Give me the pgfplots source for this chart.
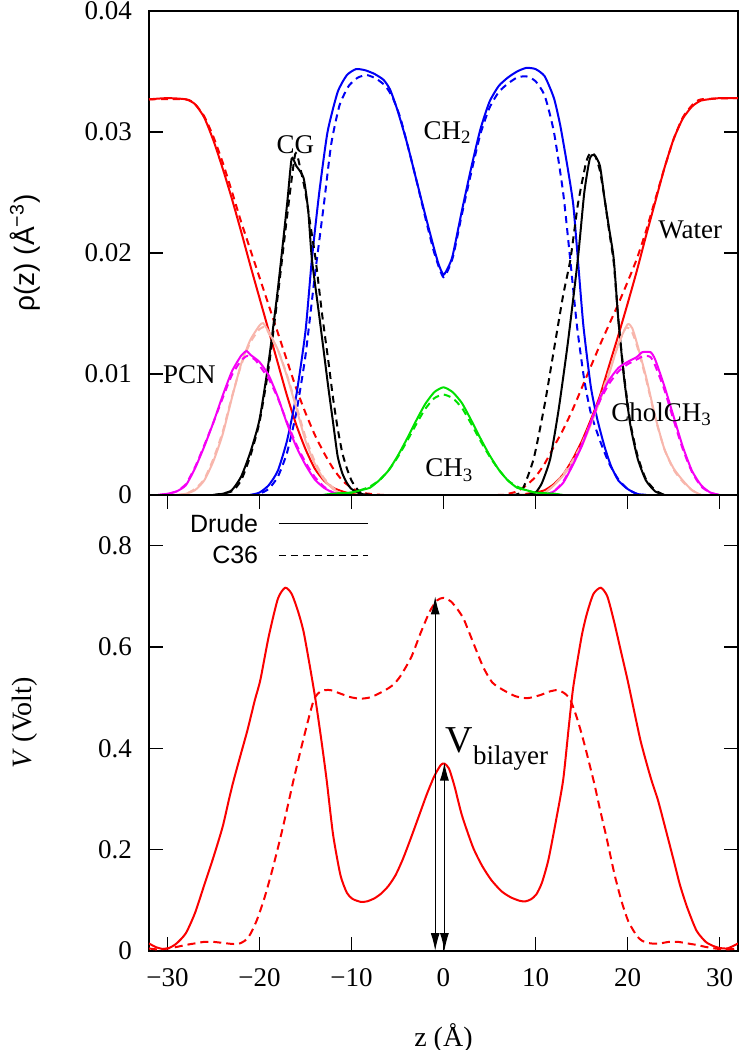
\documentclass[border=0pt]{standalone}
\usepackage{fontspec}
\setmainfont{Liberation Serif}
\setsansfont{Liberation Sans}
\usepackage{pgfplots}
\pgfplotsset{compat=1.18}
\usetikzlibrary{arrows.meta}
\definecolor{cpink}{RGB}{248,182,172}
\definecolor{cgreen}{RGB}{0,225,0}
\definecolor{cblue}{RGB}{0,0,245}
\definecolor{cmag}{RGB}{245,0,245}
\definecolor{cred}{RGB}{250,0,0}
\pgfplotsset{
  myax/.style={scale only axis, width=294.5pt, xmin=-32, xmax=32,
    axis line style={line width=0.8pt},
    tick align=inside, major tick length=7pt,
    every tick/.style={black, line width=0.8pt},
    every tick label/.append style={font=\fontsize{13.5}{16}\selectfont},
    yticklabel style={xshift=-5pt},
    xticklabel style={yshift=-5pt},
    label style={font=\fontsize{14}{17}\selectfont},
    ylabel style={at={(axis description cs:-0.211,0.5)}, anchor=center},
  },
  sol/.style={line width=1pt, smooth, tension=0.35},
  das/.style={line width=1pt, smooth, tension=0.35, dash pattern=on 3.5pt off 2.5pt},
}
\newcommand{\lab}{\fontsize{13.5}{16}\selectfont}
\begin{document}
\begin{tikzpicture}
% ---------------- top panel ----------------
\begin{axis}[myax, at={(0,228pt)}, anchor=south west, height=242pt,
  ymin=0, ymax=0.04, ytick={0,0.01,0.02,0.03,0.04}, yticklabels={0,0.01,0.02,0.03,0.04},
  xtick=\empty, ytick pos=both, yticklabel pos=left,
  ylabel={\sffamily ρ(z) (Å\textsuperscript{−3})}]
% Water
\addplot[sol, cred] coordinates {(-32,0.0327)(-30,0.0328)(-28,0.0327)(-27,0.0323)(-26,0.0312)(-25,0.0293)(-24,0.0270)(-23,0.0245)(-22,0.0218)(-21,0.0190)(-20,0.0163)(-19,0.0136)(-18,0.0109)(-17,0.0082)(-16,0.0058)(-15,0.0038)(-14,0.0022)(-13,0.0012)(-12,0.0006)(-11,0.0003)(-10,0.0001)(-8,0)(8,0)(9,0.0001)(10,0.0002)(11,0.0004)(12,0.0009)(13,0.0017)(14,0.0029)(15,0.0044)(16,0.0062)(17,0.0082)(18,0.0107)(19,0.0132)(20,0.0158)(21,0.0185)(22,0.0214)(23,0.0242)(24,0.0270)(25,0.0294)(26,0.0311)(27,0.0321)(28,0.0326)(30,0.0328)(32,0.0328)};
\addplot[das, cred] coordinates {(-32,0.0327)(-28,0.0327)(-27,0.0323)(-26,0.0313)(-25,0.0296)(-24,0.0275)(-23,0.0251)(-22,0.0226)(-21,0.0203)(-20,0.0180)(-19,0.0157)(-18,0.0134)(-17,0.0111)(-16,0.0088)(-15,0.0068)(-14,0.0050)(-13,0.0035)(-12,0.0022)(-11,0.0012)(-10,0.0006)(-9,0.0002)(-8,0.0001)(-6,0)(6,0)(7,0.0001)(8,0.0003)(9,0.0008)(10,0.0015)(11,0.0026)(12,0.0040)(13,0.0054)(14,0.0070)(15,0.0088)(16,0.0106)(17,0.0124)(18,0.0141)(19,0.0158)(20,0.0176)(21,0.0195)(22,0.0218)(23,0.0244)(24,0.0270)(25,0.0294)(26,0.0312)(27,0.0322)(28,0.0327)(32,0.0328)};
% CH2
\addplot[sol, cblue] coordinates {(-21,0)(-20,0.0002)(-19,0.0008)(-18,0.0020)(-17,0.0045)(-16,0.0082)(-15,0.0135)(-14.3,0.0195)(-13.5,0.0250)(-12.6,0.0300)(-11.5,0.0333)(-10.5,0.0347)(-9.5,0.0352)(-8.5,0.0351)(-7.5,0.0348)(-6.5,0.0343)(-5.8,0.0335)(-5,0.0318)(-4,0.0292)(-3,0.0262)(-2,0.0232)(-1,0.0203)(-0.5,0.0190)(0,0.0182)(0.5,0.0188)(1,0.0198)(2,0.0235)(3,0.0270)(4,0.0302)(5,0.0325)(6,0.0338)(7,0.0345)(8,0.0350)(9,0.0353)(10,0.0352)(11,0.0346)(12,0.0328)(12.7,0.0305)(13.5,0.0270)(14.1,0.0240)(14.6,0.0195)(15.2,0.0140)(16,0.0090)(16.7,0.0063)(17.5,0.0040)(18.2,0.0024)(19,0.0012)(20,0.0005)(21,0.0001)(22,0)};
\addplot[das, cblue] coordinates {(-21,0)(-20,0.0001)(-19,0.0005)(-18,0.0015)(-17,0.0035)(-16,0.0068)(-15,0.0115)(-14,0.0180)(-13,0.0240)(-12.2,0.0290)(-11.3,0.0322)(-10.3,0.0338)(-9.3,0.0345)(-8.3,0.0347)(-7.3,0.0344)(-6.3,0.0338)(-5.5,0.0328)(-4.7,0.0312)(-4,0.0292)(-3,0.0262)(-2,0.0230)(-1,0.0200)(0,0.0180)(1,0.0196)(2,0.0232)(3,0.0266)(4,0.0298)(5,0.0320)(6,0.0333)(7,0.0340)(8,0.0345)(9,0.0346)(10,0.0342)(11,0.0330)(12,0.0300)(13,0.0250)(13.7,0.0200)(14.5,0.0140)(15.3,0.0095)(16,0.0068)(17,0.0045)(18,0.0026)(19,0.0013)(20,0.0005)(21,0.0001)(22,0)};
% CG
\addplot[sol, black] coordinates {(-25,0)(-24,0.0001)(-23,0.0004)(-22,0.0015)(-21,0.0035)(-20,0.0062)(-19,0.0110)(-18,0.0170)(-17,0.0240)(-16.5,0.0278)(-16,0.0272)(-15.2,0.0262)(-14.7,0.0235)(-14.3,0.0195)(-13.5,0.0148)(-13,0.0118)(-12.5,0.0088)(-12,0.0060)(-11.5,0.0032)(-11,0.0018)(-10.5,0.0010)(-10,0.0005)(-9,0.0001)(-8,0)};
\addplot[das, black] coordinates {(-25,0)(-23,0.0003)(-22,0.0012)(-21,0.0032)(-20,0.0060)(-19,0.0105)(-18,0.0165)(-17,0.0230)(-16.1,0.0282)(-15.5,0.0268)(-15,0.0250)(-14.5,0.0225)(-13.9,0.0195)(-13.2,0.0150)(-12.5,0.0110)(-12,0.0080)(-11.5,0.0055)(-11,0.0035)(-10.5,0.0022)(-10,0.0012)(-9.5,0.0006)(-9,0.0002)(-8,0)};
\addplot[sol, black] coordinates {(9,0)(10,0.0002)(10.7,0.0010)(11.6,0.0030)(12.5,0.0070)(13.5,0.0125)(14.6,0.0195)(15.3,0.0250)(15.9,0.0278)(16.4,0.0281)(17,0.0272)(17.5,0.0245)(18,0.0220)(18.5,0.0195)(19,0.0145)(19.6,0.0098)(20.3,0.0058)(21.1,0.0030)(22,0.0012)(23,0.0003)(24,0)};
\addplot[das, black] coordinates {(7.5,0)(8.5,0.0003)(9.8,0.0030)(11,0.0075)(12,0.0120)(13,0.0165)(13.8,0.0195)(14.6,0.0240)(15.5,0.0275)(16,0.0283)(16.5,0.0280)(17,0.0268)(17.5,0.0245)(18,0.0218)(18.5,0.0192)(19,0.0145)(19.6,0.0100)(20.3,0.0060)(21.1,0.0032)(22,0.0013)(23,0.0004)(24,0)};
% CholCH3 (pink)
\addplot[sol, cpink] coordinates {(-29,0)(-28,0.0001)(-27,0.0004)(-26,0.0012)(-25,0.0028)(-24,0.0050)(-23,0.0080)(-22,0.0108)(-21,0.0128)(-20,0.0140)(-19.6,0.0142)(-19,0.0135)(-18,0.0120)(-17,0.0098)(-16,0.0072)(-15,0.0045)(-14,0.0026)(-13,0.0013)(-12,0.0005)(-11,0.0001)(-10,0)};
\addplot[das, cpink] coordinates {(-29,0)(-28,0.0001)(-27,0.0005)(-26,0.0013)(-25,0.0030)(-24,0.0052)(-23,0.0081)(-22,0.0107)(-21,0.0126)(-20,0.0137)(-19.4,0.0139)(-19,0.0134)(-18,0.0120)(-17,0.0099)(-16,0.0074)(-15,0.0048)(-14,0.0028)(-13,0.0014)(-12,0.0006)(-11,0.0001)(-10,0)};
\addplot[sol, cpink] coordinates {(10,0)(11,0.0002)(12,0.0008)(13,0.0016)(14,0.0026)(15,0.0040)(16,0.0058)(17,0.0078)(18,0.0100)(19,0.0125)(20,0.0141)(20.5,0.0138)(21,0.0126)(22,0.0098)(23,0.0065)(24,0.0038)(25,0.0022)(26,0.0012)(27,0.0004)(28,0)};
\addplot[das, cpink] coordinates {(10,0)(11,0.0002)(12,0.0008)(13,0.0017)(14,0.0028)(15,0.0042)(16,0.0060)(17,0.0080)(18,0.0102)(19,0.0124)(19.8,0.0138)(20.4,0.0136)(21,0.0124)(22,0.0096)(23,0.0064)(24,0.0038)(25,0.0021)(26,0.0011)(27,0.0004)(28,0)};
% PCN (magenta)
\addplot[sol, cmag] coordinates {(-31,0)(-30,0.0001)(-29,0.0003)(-28,0.0008)(-27,0.0022)(-26,0.0040)(-25,0.0060)(-24,0.0082)(-23,0.0102)(-22,0.0115)(-21.4,0.0119)(-21,0.0116)(-20,0.0110)(-19,0.0099)(-18,0.0081)(-17,0.0059)(-16,0.0040)(-15,0.0025)(-14,0.0013)(-13,0.0006)(-12,0.0002)(-11,0)};
\addplot[das, cmag] coordinates {(-31,0)(-30,0.0001)(-29,0.0003)(-28,0.0009)(-27,0.0023)(-26,0.0041)(-25,0.0060)(-24,0.0080)(-23,0.0099)(-22,0.0111)(-21.3,0.0115)(-20.5,0.0112)(-20,0.0107)(-19,0.0096)(-18,0.0080)(-17,0.0060)(-16,0.0042)(-15,0.0027)(-14,0.0015)(-13,0.0007)(-12,0.0002)(-11,0)};
\addplot[sol, cmag] coordinates {(11,0)(12,0.0003)(13,0.0010)(14,0.0024)(15,0.0040)(16,0.0060)(17,0.0080)(18,0.0095)(19,0.0105)(20,0.0110)(21,0.0114)(21.6,0.0118)(22.5,0.0118)(23,0.0112)(24,0.0090)(25,0.0065)(26,0.0040)(27,0.0020)(28,0.0008)(29,0.0002)(30,0)};
\addplot[das, cmag] coordinates {(11,0)(12,0.0003)(13,0.0011)(14,0.0025)(15,0.0041)(16,0.0060)(17,0.0078)(18,0.0092)(19,0.0102)(20,0.0108)(21,0.0112)(21.8,0.0115)(22.5,0.0114)(23,0.0107)(24,0.0087)(25,0.0062)(26,0.0038)(27,0.0019)(28,0.0007)(29,0.0002)(30,0)};
% CH3 (green)
\addplot[sol, cgreen] coordinates {(-13,0)(-12,0.0001)(-10,0.0002)(-9,0.0004)(-8,0.0006)(-7,0.0012)(-6,0.0020)(-5,0.0032)(-4,0.0046)(-3,0.0061)(-2,0.0075)(-1,0.0085)(0,0.0089)(1,0.0085)(2,0.0076)(3,0.0062)(4,0.0047)(5,0.0033)(6,0.0021)(7,0.0012)(8,0.0006)(9,0.0004)(10,0.0002)(12,0.0001)(13,0)};
\addplot[das, cgreen] coordinates {(-13,0)(-12,0.0001)(-10,0.0002)(-9,0.0004)(-8,0.0007)(-7,0.0012)(-6,0.0020)(-5,0.0031)(-4,0.0044)(-3,0.0058)(-2,0.0071)(-1,0.0080)(0,0.0083)(1,0.0080)(2,0.0072)(3,0.0059)(4,0.0045)(5,0.0032)(6,0.0021)(7,0.0012)(8,0.0007)(9,0.0004)(10,0.0002)(12,0.0001)(13,0)};
% labels
\node[anchor=base, inner sep=0, font=\lab] at (axis cs:-16.1,0.0282) {CG};
\node[anchor=base west, inner sep=0, font=\lab] at (axis cs:-2.2,0.0294) {CH\textsubscript{2}};
\node[anchor=base west, inner sep=0, font=\lab] at (axis cs:23.3,0.0212) {Water};
\node[anchor=base west, inner sep=0, font=\lab] at (axis cs:-30.5,0.0092) {PCN};
\node[anchor=base west, inner sep=0, font=\lab] at (axis cs:18.2,0.0061) {CholCH\textsubscript{3}};
\node[anchor=base west, inner sep=0, font=\lab] at (axis cs:-2.0,0.0015) {CH\textsubscript{3}};
\end{axis}
% ---------------- bottom panel ----------------
\begin{axis}[myax, at={(0,0)}, anchor=south west, height=228pt,
  ymin=0, ymax=0.9, ytick={0,0.2,0.4,0.6,0.8}, yticklabels={0,0.2,0.4,0.6,0.8},
  xtick={-30,-20,-10,0,10,20,30}, xticklabels={−30,−20,−10,0,10,20,30},
  xtick pos=both, xticklabel pos=bottom, ytick pos=both, yticklabel pos=left,
  xlabel={z (Å)}, ylabel={\textit{V} (Volt)},
  xlabel style={at={(axis description cs:0.5,-0.19)}, anchor=center}]
\addplot[line width=1pt, cred, smooth, tension=0.4] coordinates {(-32,0.015)(-31.3,0.008)(-30.5,0.004)(-29.8,0.006)(-29,0.015)(-28,0.035)(-27,0.075)(-26,0.130)(-25,0.185)(-24,0.245)(-23.3,0.300)(-22.8,0.337)(-22,0.390)(-21.3,0.436)(-20.5,0.495)(-19.9,0.535)(-19,0.620)(-18,0.695)(-17.2,0.717)(-16.5,0.705)(-15.8,0.670)(-15.2,0.630)(-14.5,0.560)(-13.9,0.495)(-13.3,0.420)(-12.7,0.338)(-12,0.230)(-11.2,0.150)(-10.5,0.115)(-9.9,0.103)(-9,0.097)(-8.3,0.098)(-7.5,0.104)(-6.8,0.113)(-6,0.128)(-5.2,0.150)(-4.4,0.182)(-3.5,0.225)(-2.5,0.275)(-1.8,0.310)(-1,0.345)(-0.3,0.367)(0.1,0.370)(0.6,0.360)(1.2,0.325)(2,0.268)(3.2,0.205)(4.2,0.168)(5.2,0.140)(6.3,0.118)(7.3,0.106)(8.3,0.099)(8.9,0.098)(9.5,0.102)(10.1,0.112)(10.7,0.135)(11.4,0.180)(12.2,0.255)(13,0.337)(13.6,0.440)(14.1,0.521)(15,0.620)(15.6,0.667)(16.3,0.705)(17.1,0.717)(17.8,0.700)(18.5,0.653)(19.3,0.590)(20,0.535)(20.7,0.475)(21.4,0.416)(22,0.375)(22.6,0.337)(23.3,0.298)(24,0.250)(25,0.180)(25.7,0.130)(26.5,0.085)(27.5,0.040)(28.5,0.018)(29.3,0.010)(30,0.006)(30.8,0.005)(31.5,0.010)(32,0.015)};
\addplot[line width=1pt, cred, smooth, tension=0.4, dash pattern=on 4pt off 2.5pt] coordinates {(-32,0.005)(-31,0.003)(-30,0.005)(-29,0.008)(-28,0.012)(-27,0.015)(-26,0.018)(-25,0.018)(-24,0.016)(-23,0.014)(-22.3,0.014)(-21.6,0.020)(-21,0.033)(-20.3,0.060)(-19.5,0.102)(-18.6,0.160)(-17.7,0.225)(-17,0.280)(-16.3,0.337)(-15.2,0.420)(-14.1,0.495)(-13.3,0.513)(-12.3,0.515)(-11.2,0.508)(-10.1,0.501)(-9,0.498)(-7.9,0.501)(-6.5,0.513)(-5.5,0.525)(-4.7,0.542)(-3.5,0.580)(-2.5,0.627)(-1.5,0.670)(-0.7,0.692)(0,0.697)(0.8,0.690)(1.5,0.675)(2.2,0.655)(3.2,0.610)(4.3,0.561)(5.3,0.530)(6.5,0.515)(7.8,0.503)(9.1,0.499)(10.5,0.505)(11.5,0.512)(12.4,0.515)(13.2,0.508)(13.8,0.495)(14.5,0.460)(15.2,0.416)(16.3,0.337)(17,0.280)(17.7,0.225)(18.6,0.150)(19.4,0.095)(20.1,0.058)(21,0.030)(21.6,0.020)(22.5,0.015)(23.5,0.015)(24.5,0.018)(25.5,0.018)(26.5,0.015)(27.5,0.012)(28.5,0.008)(29.5,0.005)(30.5,0.003)(31.5,0.004)(32,0.005)};
% arrows and annotation
\draw[line width=0.6pt, {Latex[length=9pt,width=4.5pt]}-{Latex[length=9pt,width=4.5pt]}] (axis cs:-0.9,0) -- (axis cs:-0.9,0.700);
\draw[line width=0.6pt, {Latex[length=9pt,width=4.5pt]}-{Latex[length=9pt,width=4.5pt]}] (axis cs:0.1,0) -- (axis cs:0.1,0.372);
\node[anchor=base west, inner sep=0] at (axis cs:0.2,0.392) {\fontsize{19}{20}\selectfont V\raisebox{-6pt}{\fontsize{13.5}{15}\selectfont bilayer}};
% legend
\node[anchor=east, inner sep=0, font=\sffamily\fontsize{12.5}{14}\selectfont] at (axis cs:-20.1,0.844) {Drude};
\node[anchor=east, inner sep=0, font=\sffamily\fontsize{12.5}{14}\selectfont] at (axis cs:-20.1,0.781) {C36};
\draw[black, line width=0.6pt] (axis cs:-17.9,0.844) -- (axis cs:-8.2,0.844);
\draw[black, line width=0.6pt, dash pattern=on 3.5pt off 2.5pt] (axis cs:-17.9,0.781) -- (axis cs:-8.2,0.781);
\end{axis}
\pgfresetboundingbox
\path[use as bounding box] (-74.5pt,-49.5pt) rectangle (296pt,475.5pt);
\end{tikzpicture}
\end{document}
